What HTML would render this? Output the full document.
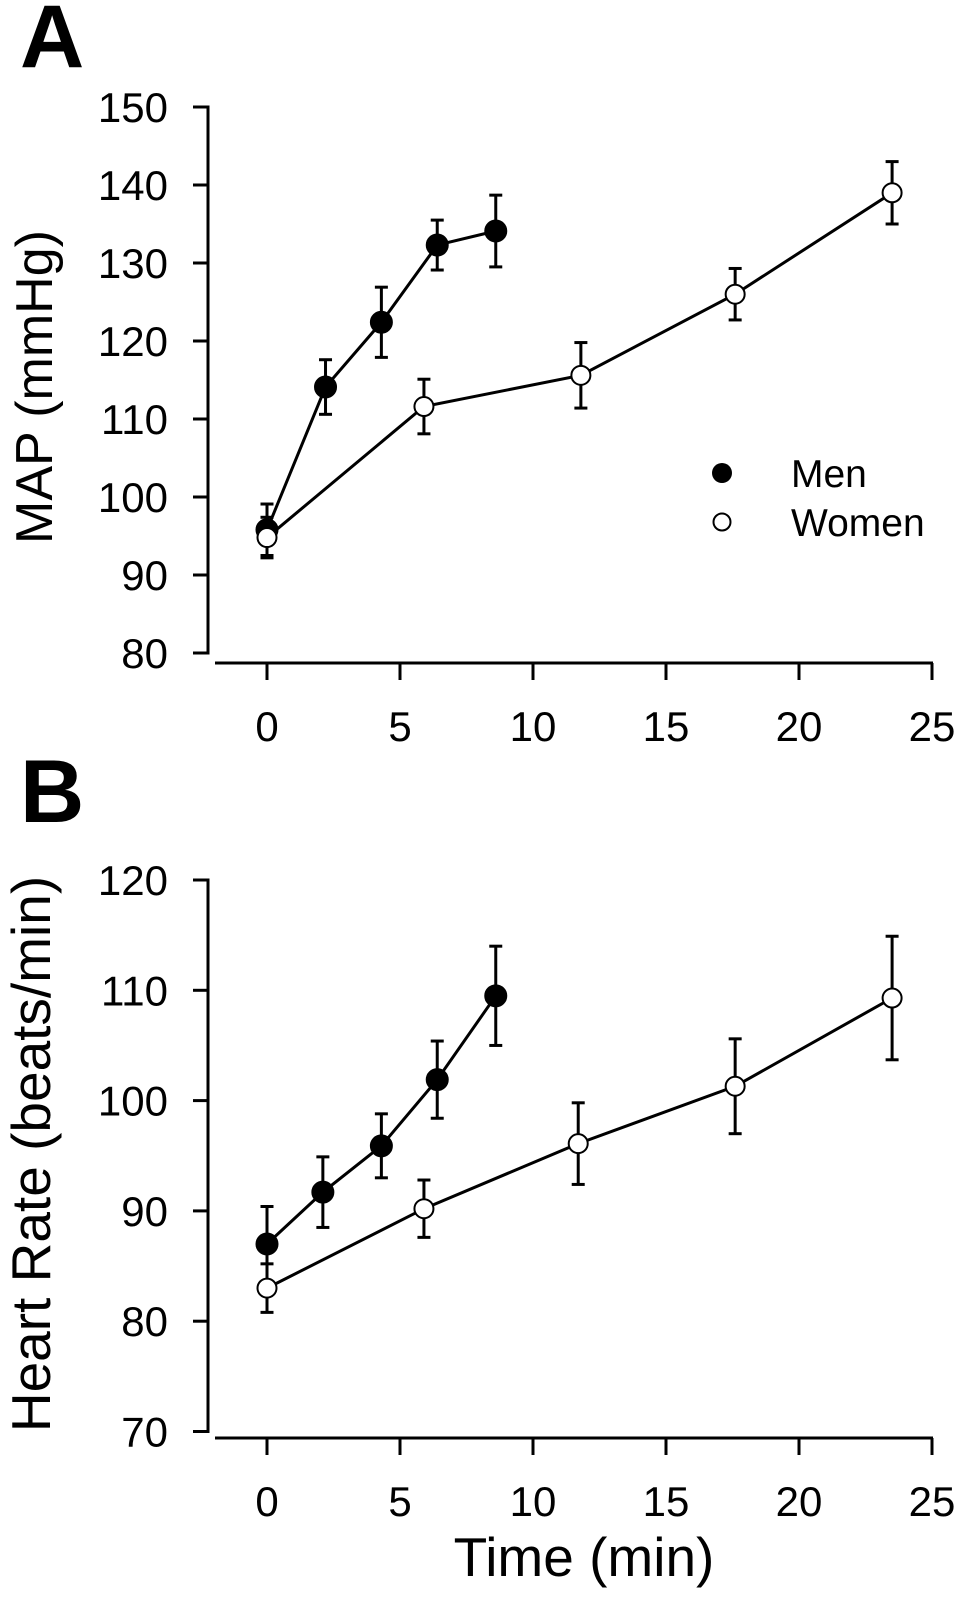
<!DOCTYPE html>
<html><head><meta charset="utf-8"><style>
html,body{margin:0;padding:0;background:#fff;}
svg{display:block;font-family:"Liberation Sans",Arial,sans-serif;}
</style></head><body>
<svg id="chart" width="958" height="1600" viewBox="0 0 958 1600"></svg>
<script>
const xTicks=[0,5,10,15,20,25];
const aTicks=[80,90,100,110,120,130,140,150];
const bTicks=[70,80,90,100,110,120];
const menTimeA=[0,2.2,4.3,6.4,8.6];
const menMAP=[95.8,114.1,122.4,132.3,134.1];
const menMAPerr=[3.3,3.5,4.5,3.2,4.6];
const womenTimeA=[0,5.9,11.8,17.6,23.5];
const womenMAP=[94.8,111.6,115.6,126.0,139.0];
const womenMAPerr=[2.6,3.5,4.2,3.3,4.0];
const menTimeB=[0,2.1,4.3,6.4,8.6];
const menHR=[87.0,91.7,95.9,101.9,109.5];
const menHRerr=[3.4,3.2,2.9,3.5,4.5];
const womenTimeB=[0,5.9,11.7,17.6,23.5];
const womenHR=[83.0,90.2,96.1,101.3,109.3];
const womenHRerr=[2.2,2.6,3.7,4.3,5.6];

const NS="http://www.w3.org/2000/svg";
const svg=document.getElementById('chart');
function mk(tag,attrs,parent){const e=document.createElementNS(NS,tag);for(const k in attrs)e.setAttribute(k,attrs[k]);(parent||svg).appendChild(e);return e;}
const sx=t=>267+26.6*t;

function panel(cfg){
  const g=mk('g',{});
  
  
  const sy=cfg.sy;
  const ya=mk('line',{x1:208,x2:208,y1:sy(cfg.yt[cfg.yt.length-1])-1.5,y2:sy(cfg.yt[0])+1.5,stroke:'#000','stroke-width':3},g);
  
  
  cfg.yt.forEach(v=>{
    mk('line',{x1:193,x2:209,y1:sy(v),y2:sy(v),stroke:'#000','stroke-width':3},g);
    const t=mk('text',{x:168,y:sy(v)+15,'text-anchor':'end','font-size':42},g);
    t.textContent=v;
    
    
  });
  const xa=mk('line',{x1:215,x2:933,y1:cfg.xa,y2:cfg.xa,stroke:'#000','stroke-width':3},g);
  
  
  xTicks.forEach(v=>{
    mk('line',{x1:sx(v),x2:sx(v),y1:cfg.xa,y2:cfg.xa+17,stroke:'#000','stroke-width':3},g);
    const t=mk('text',{x:sx(v),y:cfg.xa+78,'text-anchor':'middle','font-size':42},g);
    t.textContent=v;
    
    
  });
  cfg.series.forEach(s=>{
    const sg=mk('g',{},g);
    
    
    s.t.forEach((t,i)=>{
      const x=sx(t),y1=sy(s.v[i]+s.e[i]),y2=sy(s.v[i]-s.e[i]);
      mk('line',{x1:x,x2:x,y1:y1,y2:y2,stroke:'#000','stroke-width':3},sg);
      mk('line',{x1:x-6.5,x2:x+6.5,y1:y1,y2:y1,stroke:'#000','stroke-width':3},sg);
      mk('line',{x1:x-6.5,x2:x+6.5,y1:y2,y2:y2,stroke:'#000','stroke-width':3},sg);
    });
    const pts=s.t.map((t,i)=>sx(t)+','+sy(s.v[i])).join(' ');
    const pl=mk('polyline',{points:pts,fill:'none',stroke:'#000','stroke-width':3},sg);
    
    
    s.t.forEach((t,i)=>{
      const c=mk('circle',{cx:sx(t),cy:sy(s.v[i]),r:s.fill?10.5:9.5,fill:s.fill?'#000':'#fff',stroke:'#000','stroke-width':2},sg);
      
      
    });
  });
}
const syA=v=>107+(150-v)*7.8;
const syB=v=>880+(120-v)*11.03;
panel({name:'panel-a',sy:syA,yt:aTicks,xa:663,series:[
  {name:'men-map',t:menTimeA,v:menMAP,e:menMAPerr,fill:true},
  {name:'women-map',t:womenTimeA,v:womenMAP,e:womenMAPerr,fill:false}]});
panel({name:'panel-b',sy:syB,yt:bTicks,xa:1438,series:[
  {name:'men-hr',t:menTimeB,v:menHR,e:menHRerr,fill:true},
  {name:'women-hr',t:womenTimeB,v:womenHR,e:womenHRerr,fill:false}]});
</script>
<svg width="958" height="1600" style="position:absolute;left:0;top:0;">
  <text x="20" y="67" font-size="89" font-weight="bold" font-family="Liberation Sans, sans-serif">A</text>
  <text x="20" y="822" font-size="89" font-weight="bold" font-family="Liberation Sans, sans-serif">B</text>
  <text transform="translate(52,387) rotate(-90)" text-anchor="middle" font-size="52" font-family="Liberation Sans, sans-serif">MAP (mmHg)</text>
  <text transform="translate(50,1154) rotate(-90)" text-anchor="middle" font-size="55" font-family="Liberation Sans, sans-serif">Heart Rate (beats/min)</text>
  <text x="584" y="1576" text-anchor="middle" font-size="55" font-family="Liberation Sans, sans-serif">Time (min)</text>
  <g>
    <circle cx="722" cy="473" r="10" fill="#000"/>
    <text x="791" y="487" font-size="39" font-family="Liberation Sans, sans-serif">Men</text>
    <circle cx="722" cy="522" r="8.5" fill="#fff" stroke="#000" stroke-width="2"/>
    <text x="791" y="536" font-size="39" font-family="Liberation Sans, sans-serif">Women</text>
  </g>
</svg>
</body></html>
